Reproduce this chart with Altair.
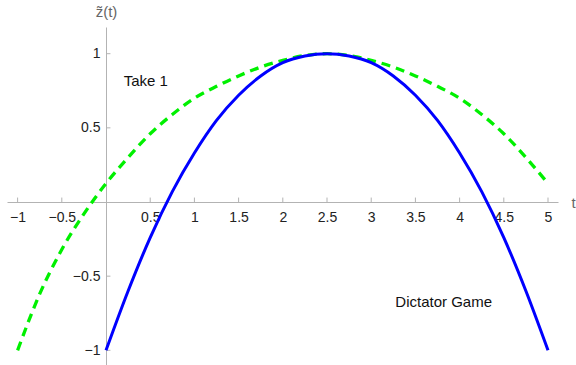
import altair as alt
import pandas as pd

# Solid blue curve (Dictator Game), t from 0 to 5
t_blue = [0.0, 0.25, 0.5, 0.75, 1.0, 1.25, 1.5, 1.75, 2.0, 2.25, 2.5,
          2.75, 3.0, 3.25, 3.5, 3.75, 4.0, 4.25, 4.5, 4.75, 5.0]
z_blue = [-1.0, -0.60, -0.24, 0.07, 0.33, 0.55, 0.72, 0.85, 0.94, 0.985, 1.0,
          0.985, 0.94, 0.85, 0.72, 0.55, 0.33, 0.07, -0.24, -0.60, -1.0]

# Dashed green curve (Take 1), t from -1 to 5
t_green = [-1.0, -0.75, -0.5, -0.25, 0.0, 0.25, 0.5, 0.75, 1.0, 1.25, 1.5,
           1.75, 2.0, 2.25, 2.5, 2.75, 3.0, 3.25, 3.5, 3.75, 4.0, 4.25,
           4.5, 4.75, 5.0]
z_green = [-1.0, -0.62, -0.32, -0.08, 0.125, 0.30, 0.46, 0.59, 0.70, 0.78, 0.85,
           0.91, 0.955, 0.988, 1.0, 0.988, 0.955, 0.91, 0.85, 0.78, 0.70, 0.59,
           0.46, 0.30, 0.125]

# Tick positions and annotations
x_ticks = [-1, -0.5, 0.5, 1, 1.5, 2, 2.5, 3, 3.5, 4, 4.5, 5]
y_ticks = [-1, -0.5, 0.5, 1]
note_text = ["Take 1", "Dictator Game"]
note_t = [0.45, 3.82]
note_z = [0.818, -0.676]

FONT = "Liberation Sans"
AXIS_GRAY = "#b3b3b3"

blue_df = pd.DataFrame({"t": t_blue, "z": z_blue})
green_df = pd.DataFrame({"t": t_green, "z": z_green})
xt_df = pd.DataFrame({"t": x_ticks})
yt_df = pd.DataFrame({"z": y_ticks})
note_df = pd.DataFrame({"label": note_text, "t": note_t, "z": note_z})

x_scale = alt.Scale(domain=[-1.12, 5.113], nice=False, zero=False)
y_scale = alt.Scale(domain=[-1.099, 1.18], nice=False, zero=False)

minus_expr = "replace(datum.label, '-', '\u2212')"

x_axis = alt.Axis(
    values=x_ticks, format="~g", labelExpr=minus_expr, ticks=False, grid=False,
    offset=-163, domainColor=AXIS_GRAY, domainWidth=1,
    labelFont=FONT, labelFontSize=14, labelColor="#222222", labelPadding=8,
    labelFlush=False, labelOverlap=False,
    title="t", titleFont=FONT, titleFontSize=15, titleFontWeight="normal",
    titleColor="#666666", titleX=564, titleY=0, titleAlign="left",
    titleBaseline="middle", titleAngle=0,
)
y_axis = alt.Axis(
    values=y_ticks, format="~g", labelExpr=minus_expr, ticks=False, grid=False,
    offset=-99, domainColor=AXIS_GRAY, domainWidth=1,
    labelFont=FONT, labelFontSize=14, labelColor="#222222", labelPadding=6,
    labelFlush=False, labelOverlap=False,
    title="z\u0303(t)", titleFont=FONT, titleFontSize=15, titleFontWeight="normal",
    titleColor="#666666", titleX=0, titleY=-16, titleAlign="center",
    titleBaseline="middle", titleAngle=0,
)

blue = alt.Chart(blue_df).mark_line(
    color="#0000ff", strokeWidth=3, interpolate="monotone"
).encode(
    x=alt.X("t:Q", scale=x_scale, axis=x_axis),
    y=alt.Y("z:Q", scale=y_scale, axis=y_axis),
)

green = alt.Chart(green_df).mark_line(
    color="#00f000", strokeWidth=3.3, strokeDash=[9, 6], interpolate="monotone"
).encode(
    x=alt.X("t:Q", scale=x_scale),
    y=alt.Y("z:Q", scale=y_scale),
)

# Inward-pointing tick marks on both axes
x_tick_marks = alt.Chart(xt_df).mark_rule(color=AXIS_GRAY, strokeWidth=1).encode(
    x=alt.X("t:Q", scale=x_scale),
    y=alt.datum(0),
    y2=alt.datum(0.03),
)
y_tick_marks = alt.Chart(yt_df).mark_rule(color=AXIS_GRAY, strokeWidth=1).encode(
    y=alt.Y("z:Q", scale=y_scale),
    x=alt.datum(0),
    x2=alt.datum(0.05),
)

notes = alt.Chart(note_df).mark_text(
    font=FONT, fontSize=15, color="#111111", align="center", baseline="middle"
).encode(
    x=alt.X("t:Q", scale=x_scale),
    y=alt.Y("z:Q", scale=y_scale),
    text="label:N",
)

chart = alt.layer(x_tick_marks, y_tick_marks, green, blue, notes).properties(
    width=551,
    height=338,
    autosize=alt.AutoSizeParams(type="none"),
    padding={"left": 7, "top": 27, "right": 18, "bottom": 0},
    background="white",
).configure_view(stroke=None)

chart.save("out.html", embed_options={"renderer": "svg", "actions": False})
